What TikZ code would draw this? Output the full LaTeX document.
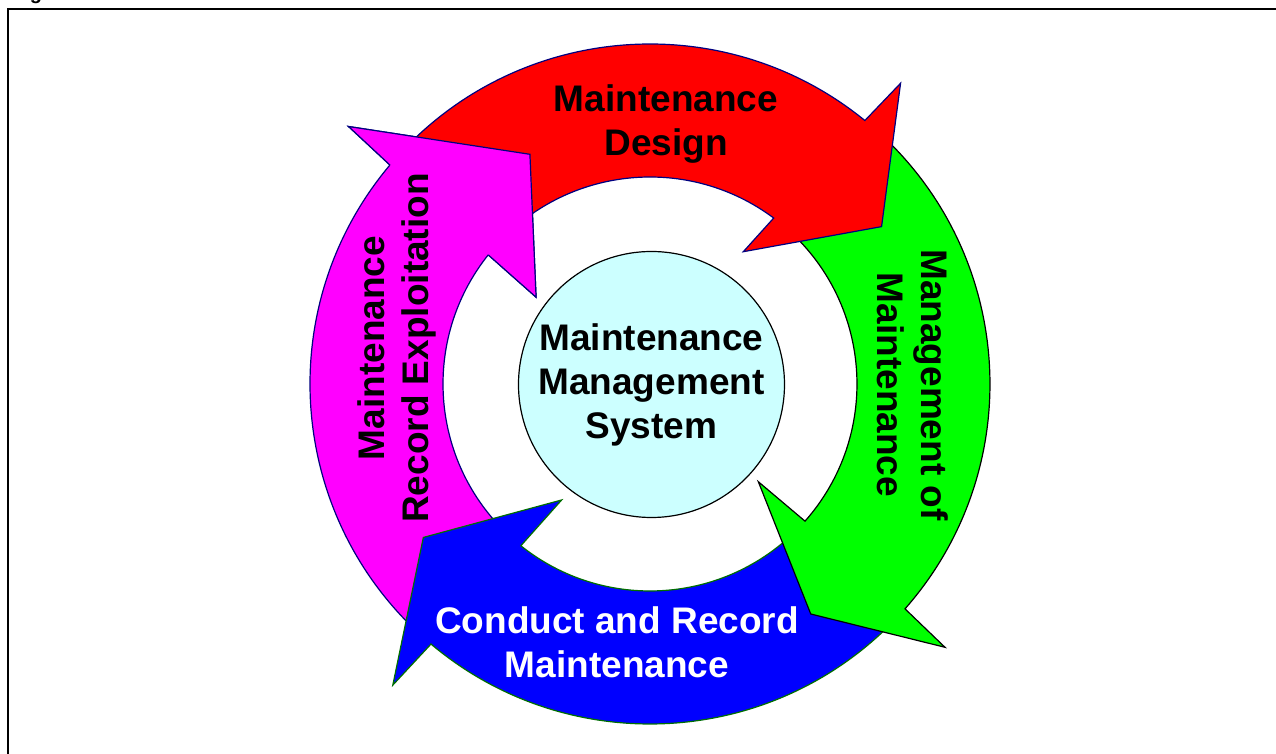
\documentclass[tikz,border=0pt]{standalone}
\usepackage{fontspec}
\setmainfont{Liberation Sans}
\definecolor{designred}{RGB}{255,0,0}
\definecolor{mgmtgreen}{RGB}{0,255,0}
\definecolor{conductblue}{RGB}{0,0,255}
\definecolor{recordmagenta}{RGB}{255,0,255}
\definecolor{systemcyan}{RGB}{204,255,255}
\definecolor{navyline}{RGB}{0,0,128}
\definecolor{darkgreenline}{RGB}{0,110,0}
\begin{document}
\begin{tikzpicture}[x=0.5pt,y=0.5pt,
  ringarrow/.style={line width=0.6pt, line join=miter},
  ringtext/.style={font=\fontsize{18.5}{22}\selectfont\bfseries, align=center, inner sep=0pt}]
\useasboundingbox (-650,-370) rectangle (626,384);
% Frame (cut at the page edge)
\draw[line width=1pt] (-642,-380) -- (-642,375) -- (640,375);
\node[anchor=base, inner sep=0pt, font=\fontsize{10}{12}\selectfont\bfseries] (caption) at (-614,384) {g};
% Ring Arrows: record, conduct, management, design
\draw[ringarrow, fill=recordmagenta, draw=navyline] (227:340) arc[start angle=227, end angle=139.9, radius=340]
   -- (139.5:396.5) -- (117.6:259.2) -- (142.7:143.2) -- (141.4:207)
   arc[start angle=141.4, end angle=227, radius=207] -- cycle;
\draw[ringarrow, fill=conductblue, draw=darkgreenline] (-44:340) arc[start angle=-44, end angle=-130.1, radius=340]
   -- (-130.5:396) -- (-145.9:273.7) -- (-127.3:145.8) -- (-128.6:207)
   arc[start angle=-128.6, end angle=-44, radius=207] -- cycle;
\draw[ringarrow, fill=mgmtgreen, draw=black] (48:340) arc[start angle=48, end angle=-41.4, radius=340]
   -- (-41.75:395.4) -- (-55.05:280.6) -- (-42.05:145.9) -- (-41.5:207)
   arc[start angle=-41.5, end angle=48, radius=207] -- cycle;
\draw[ringarrow, fill=designred, draw=navyline] (137:340) arc[start angle=137, end angle=50.8, radius=340]
   -- (50.2:391.5) -- (34.2:280) -- (54.8:161.9) -- (53.3:207)
   arc[start angle=53.3, end angle=137, radius=207] -- cycle;
% Record head again, over the tail of the design arrow
\fill[recordmagenta] (139.9:340) -- (139.5:396.5) -- (117.6:259.2) -- (142.7:143.2) -- (141.4:207) -- cycle;
\draw[ringarrow, navyline] (139.9:340) -- (139.5:396.5) -- (117.6:259.2) -- (142.7:143.2) -- (141.4:207);
% Centre
\node[circle, draw=black, line width=0.6pt, fill=systemcyan, minimum size=133pt, inner sep=0pt,
   ringtext] (mms) at (1.5,-0.5) {Maintenance\\Management\\System};
% Labels
\node[ringtext] (design) at (16,260) {Maintenance\\Design};
\node[ringtext, rotate=-90] (mgmt) at (263,-1) {Management of\\Maintenance};
\node[ringtext, text=white] (conduct) at (-33,-258) {Conduct and Record\\Maintenance};
\node[ringtext, rotate=90] (record) at (-253,36) {Maintenance\\Record Exploitation};
\end{tikzpicture}
\end{document}
